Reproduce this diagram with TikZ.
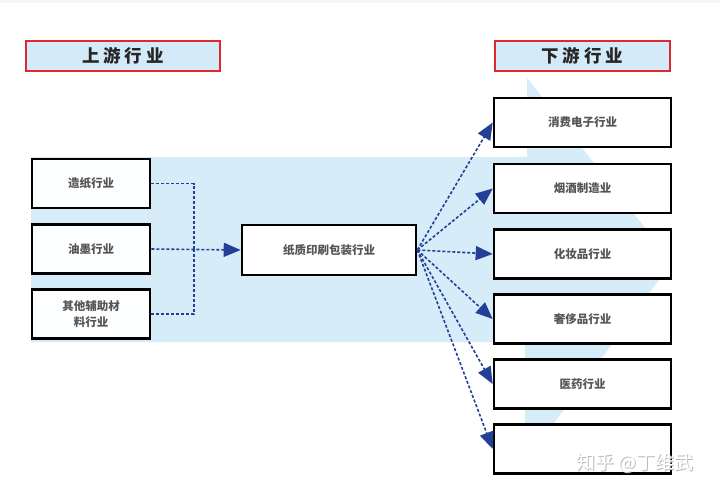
\documentclass[tikz,border=0pt]{standalone}
\usepackage{fontspec}
\newfontfamily\cjk{Noto Sans CJK SC}
\usetikzlibrary{arrows.meta}
\definecolor{bandblue}{RGB}{214,236,248}
\definecolor{hdrfill}{RGB}{212,234,248}
\definecolor{hdrred}{RGB}{222,40,44}
\definecolor{linkblue}{RGB}{36,64,150}
\definecolor{txtgray}{RGB}{85,85,85}
\tikzset{
  hdr/.style={draw=hdrred, line width=2pt, fill=hdrfill, minimum height=30pt, inner sep=0pt,
    font=\cjk\fontsize{17.5}{20}\selectfont\bfseries, text=black!85},
  lbox/.style={draw=black, line width=2.6pt, fill=white!96!bandblue, minimum width=118pt, minimum height=49pt,
    inner sep=2pt, align=center, font=\cjk\fontsize{11.5}{16}\selectfont\bfseries, text=txtgray},
  rbox/.style={lbox, fill=white, minimum width=177pt},
  dl/.style={draw=linkblue, line width=1.6pt, dash pattern=on 3pt off 2pt},
  arr/.style={dl, -{Triangle[length=17pt,width=14pt,fill=linkblue]}, shorten >=0pt},
}
\begin{document}
\begin{tikzpicture}[x=1pt,y=-1pt]
\useasboundingbox (0,0) rectangle (720,492);
\fill[white] (0,0) rectangle (720,492);
\fill[gray!8] (0,0) rectangle (720,3);
\fill[bandblue] (31,157) -- (527,157) -- (527,78) -- (672,262) -- (525,463) -- (525,342) -- (31,342) -- cycle;

\node[hdr, minimum width=194pt] (up) at (123,56) {上\kern4pt 游\kern4pt 行\kern4pt 业};
\node[hdr, minimum width=175pt] (down) at (582.5,56) {下\kern4pt 游\kern4pt 行\kern4pt 业};

\node[lbox] (l1) at (91,183.5) {造纸行业};
\node[lbox] (l2) at (91,249) {油墨行业};
\node[lbox] (l3) at (91,314) {其他辅助材\\料行业};

\node[lbox, fill=white, minimum width=174pt, minimum height=50pt] (mid) at (329,250) {纸质印刷包装行业};

\node[rbox] (r1) at (582.5,122.5) {消费电子行业};
\node[rbox] (r2) at (582.5,188.5) {烟酒制造业};
\node[rbox] (r3) at (582.5,254) {化妆品行业};
\node[rbox] (r4) at (582.5,319) {奢侈品行业};
\node[rbox] (r5) at (582.5,384) {医药行业};
\node[rbox] (r6) at (582.5,449) {};

\coordinate (jm) at (194,249);
\draw[dl] (l1.east) -| (jm);
\draw[dl] (l3.east) -| (jm);
\draw[arr] (l2.east) -- (mid.west);

\foreach \i in {1,...,6}{
  \draw[arr] (mid.east) -- (r\i.west);
}

\node[font=\cjk\fontsize{19}{22}\selectfont, text=gray!55] (wm0) at (635.8,463.8) {知乎 @丁维武};
\node[font=\cjk\fontsize{19}{22}\selectfont, text=white] (wm) at (635,463) {知乎 @丁维武};
\end{tikzpicture}
\end{document}
